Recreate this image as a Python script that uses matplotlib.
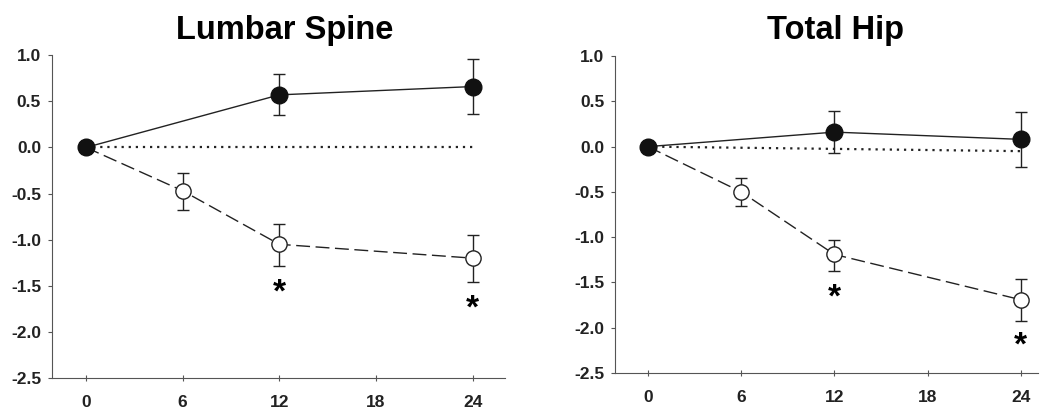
import matplotlib.pyplot as plt

plt.rcParams['font.family'] = ['Liberation Sans', 'DejaVu Sans']

months = [0, 6, 12, 24]
months_filled = [0, 12, 24]
xticks = [0, 6, 12, 18, 24]
yticks = [1.0, 0.5, 0.0, -0.5, -1.0, -1.5, -2.0, -2.5]

# Lumbar spine
ls_filled = [0.0, 0.57, 0.66]
ls_filled_lo = [0.0, 0.22, 0.30]
ls_filled_hi = [0.0, 0.23, 0.30]
ls_open = [0.0, -0.47, -1.05, -1.20]
ls_open_lo = [0.0, 0.21, 0.23, 0.26]
ls_open_hi = [0.0, 0.19, 0.22, 0.25]
ls_ref = [0.0, 0.0]
ls_star_x = [12, 24]
ls_star_y = [-1.58, -1.75]

# Total hip
th_filled = [0.0, 0.16, 0.08]
th_filled_lo = [0.0, 0.23, 0.31]
th_filled_hi = [0.0, 0.23, 0.30]
th_open = [0.0, -0.50, -1.19, -1.69]
th_open_lo = [0.0, 0.16, 0.18, 0.23]
th_open_hi = [0.0, 0.15, 0.16, 0.23]
th_ref = [0.0, -0.05]
th_star_x = [12, 24]
th_star_y = [-1.67, -2.2]

fig = plt.figure(figsize=(10.43, 4.15), dpi=100)
ax1 = fig.add_axes([0.050, 0.089, 0.434, 0.778])
ax2 = fig.add_axes([0.590, 0.101, 0.405, 0.764])


def draw(ax, title, tx, filled, flo, fhi, opn, olo, ohi, ref, sx, sy, xmax):
    c = '#222222'
    ax.plot([0, 24], ref, linestyle=(0, (1, 2.2)), color=c, linewidth=1.6, zorder=1)
    ax.errorbar(months, opn, yerr=[olo, ohi], color=c, linewidth=1.0,
                linestyle=(0, (10, 4)), marker='o', markersize=11,
                markerfacecolor='white', markeredgecolor=c, markeredgewidth=1.0,
                ecolor=c, elinewidth=1.0, capsize=4, capthick=1.0, zorder=2)
    ax.errorbar(months_filled, filled, yerr=[flo, fhi], color=c, linewidth=1.0,
                linestyle='-', marker='o', markersize=12,
                markerfacecolor='#111111', markeredgecolor='#111111',
                ecolor=c, elinewidth=1.0, capsize=4, capthick=1.0, zorder=3)
    for x, y in zip(sx, sy):
        ax.text(x, y, '*', ha='center', va='center', fontsize=24, fontweight='bold')
    ax.set_xlim(-2.1, xmax)
    ax.set_ylim(-2.5, 1.0)
    ax.set_xticks(xticks)
    ax.set_yticks(yticks)
    ax.set_yticklabels(['%.1f' % v for v in yticks])
    ax.spines['top'].set_visible(False)
    ax.spines['right'].set_visible(False)
    ax.spines['left'].set_color('#555555')
    ax.spines['bottom'].set_color('#555555')
    ax.tick_params(axis='y', direction='out', length=3, color='#555555',
                   labelsize=12.5, pad=5)
    ax.tick_params(axis='x', direction='inout', length=5, color='#555555',
                   labelsize=12.5, pad=10)
    for lab in ax.get_xticklabels() + ax.get_yticklabels():
        lab.set_fontweight('bold')
        lab.set_color('#222222')
    ax.set_title(title, fontsize=23.5, fontweight='bold', pad=12, x=tx)


draw(ax1, 'Lumbar Spine', 0.514, ls_filled, ls_filled_lo, ls_filled_hi,
     ls_open, ls_open_lo, ls_open_hi, ls_ref, ls_star_x, ls_star_y, 26.0)
draw(ax2, 'Total Hip', 0.521, th_filled, th_filled_lo, th_filled_hi,
     th_open, th_open_lo, th_open_hi, th_ref, th_star_x, th_star_y, 25.1)

fig.savefig('out.png', dpi=100)
